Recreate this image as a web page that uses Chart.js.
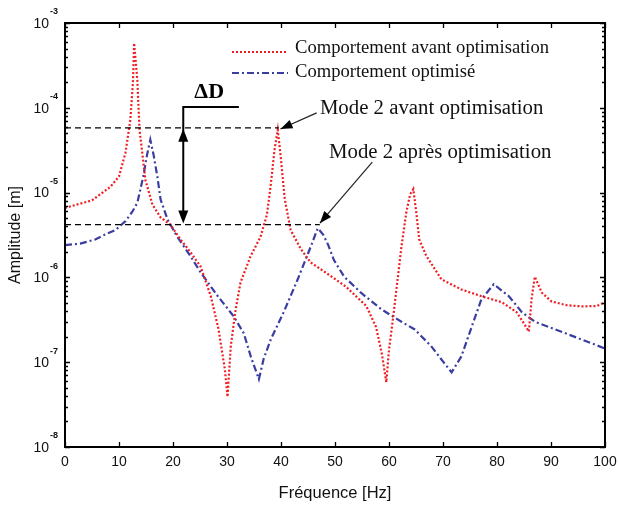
<!DOCTYPE html>
<html><head><meta charset="utf-8">
<script src="https://cdn.jsdelivr.net/npm/chart.js@4/dist/chart.umd.min.js"></script>
<style>html,body{margin:0;padding:0;background:#fff}canvas{display:block}</style>
</head><body>
<canvas id="c" width="618" height="505"></canvas>
<script>
// ---- data ----
const seriesNames = ['Comportement avant optimisation', 'Comportement optimisé'];
const freqAvant = [0,5,8.4,10,11.2,12.1,12.6,12.8,13.4,13.8,14.9,16.2,17.7,19.5,21.4,23.2,25.1,27,28.4,29.6,30.1,30.7,31.6,32.5,34.4,36.2,37.4,38.1,38.8,39.4,40,40.7,41.8,43.7,45.5,49.3,52,55.8,57.6,58.7,59.5,60,60.8,62.3,63.2,63.9,64.5,65.1,65.6,66.9,69.7,73.4,77.1,80.9,83.6,84.8,85.9,86.4,87,88.3,90.1,92.9,95.7,98.5,100];
const ampAvant = [6.6e-6,8.1e-6,1.17e-5,1.55e-5,2.95e-5,7.2e-5,2.1e-4,5.8e-4,2.1e-4,5.5e-5,1.4e-5,7.2e-6,5.1e-6,4.2e-6,2.8e-6,2.0e-6,1.35e-6,6.0e-7,2.5e-7,8.3e-8,3.9e-8,1.55e-7,4.2e-7,8.7e-7,1.8e-6,3.0e-6,5.5e-6,1.23e-5,3.2e-5,5.5e-5,2.45e-5,8.3e-6,3.6e-6,2.15e-6,1.5e-6,1.03e-6,7.8e-7,4.6e-7,2.6e-7,1.23e-7,5.8e-8,1.4e-7,3.5e-7,2.3e-6,5.8e-6,9.5e-6,1.1e-5,5.5e-6,2.8e-6,1.8e-6,9.5e-7,7.2e-7,6.0e-7,5.1e-7,3.9e-7,3.0e-7,2.3e-7,5.5e-7,1.02e-6,6.6e-7,5.2e-7,4.7e-7,4.55e-7,4.6e-7,5.1e-7];
const freqOpt = [0,2.8,5.6,7.4,9.3,11.2,12.5,13.4,14.5,15.2,15.8,16.4,17.1,17.7,19,20.8,23.2,25.1,28.3,31.2,33.1,34.4,35.9,36.8,38.1,40.5,43.1,45.5,46.8,47.8,48.7,49.8,51.7,54.8,58.6,62.3,64.7,67.8,70.1,71.6,73.4,75.3,77.1,79.4,82.2,84.6,87,90.7,95.7,100];
const ampOpt = [2.4e-6,2.5e-6,2.8e-6,3.2e-6,3.6e-6,4.6e-6,6.0e-6,7.6e-6,1.55e-5,2.8e-5,4.2e-5,2.8e-5,1.55e-5,8.3e-6,4.8e-6,3.0e-6,1.8e-6,1.15e-6,6.0e-7,3.5e-7,2.2e-7,1.17e-7,6.3e-8,1.1e-7,1.85e-7,3.9e-7,9.5e-7,2.3e-6,3.8e-6,3.2e-6,2.45e-6,1.6e-6,1.02e-6,6.6e-7,4.2e-7,3.0e-7,2.45e-7,1.55e-7,1.0e-7,7.6e-8,1.17e-7,2.6e-7,5.5e-7,8.3e-7,6.0e-7,3.9e-7,3.0e-7,2.45e-7,1.85e-7,1.45e-7];
const xTicks = [0,10,20,30,40,50,60,70,80,90,100];
const yDecades = [-8,-7,-6,-5,-4,-3];
const mode2Avant = {freq: 39.4, amp: 5.8e-5};
const mode2Apres = {freq: 47.0, amp: 4.2e-6};
const annotationTexts = ['Mode 2 avant optimisation', 'Mode 2 après optimisation', 'ΔD'];

const RED = 'rgb(240,30,34)';
const BLUE = 'rgb(58,62,160)';
const SANS = '"Liberation Sans", Arial, sans-serif';
const SERIF = '"Liberation Serif", "Times New Roman", serif';

function pts(xs, ys){ return xs.map((x,i)=>({x:x, y:ys[i]})); }

function arrowHead(ctx, x1,y1,x2,y2, len, w){
  const a = Math.atan2(y2-y1, x2-x1);
  ctx.beginPath();
  ctx.moveTo(x2,y2);
  ctx.lineTo(x2 - len*Math.cos(a) + w*Math.sin(a), y2 - len*Math.sin(a) - w*Math.cos(a));
  ctx.lineTo(x2 - len*Math.cos(a) - w*Math.sin(a), y2 - len*Math.sin(a) + w*Math.cos(a));
  ctx.closePath(); ctx.fill();
}

const decor = {
  id: 'decor',
  afterDraw(chart){
    const ctx = chart.ctx, xs = chart.scales.x, ys = chart.scales.y, a = chart.chartArea;
    ctx.save();
    // frame
    ctx.strokeStyle = '#000'; ctx.lineWidth = 2;
    ctx.strokeRect(a.left, a.top, a.right-a.left, a.bottom-a.top);
    ctx.lineWidth = 1.3;
    xTicks.forEach(v=>{
      const px = Math.round(xs.getPixelForValue(v))+0.5;
      ctx.beginPath(); ctx.moveTo(px, a.bottom); ctx.lineTo(px, a.bottom-5);
      ctx.moveTo(px, a.top); ctx.lineTo(px, a.top+5); ctx.stroke();
    });
    yDecades.forEach(k=>{
      for(let m=1;m<=9;m++){
        if(k===-3 && m>1) break;
        const py = Math.round(ys.getPixelForValue(m*Math.pow(10,k)))+0.5;
        const L = m===1 ? 5 : 3;
        ctx.beginPath(); ctx.moveTo(a.left, py); ctx.lineTo(a.left+L, py);
        ctx.moveTo(a.right, py); ctx.lineTo(a.right-L, py); ctx.stroke();
      }
    });
    // y tick labels 10^k
    ctx.fillStyle = '#111';
    yDecades.forEach(k=>{
      const py = ys.getPixelForValue(Math.pow(10,k));
      ctx.font = '14px ' + SANS;
      ctx.textAlign = 'right'; ctx.textBaseline = 'middle';
      ctx.fillText('10', 49, py+1);
      ctx.font = 'bold 9px ' + SANS;
      ctx.textAlign = 'left'; ctx.textBaseline = 'middle';
      ctx.fillText(String(k), 50, py-11);
    });

    // legend
    ctx.lineWidth = 2;
    ctx.strokeStyle = RED; ctx.setLineDash([2,2]);
    ctx.beginPath(); ctx.moveTo(232,52); ctx.lineTo(288,52); ctx.stroke();
    ctx.strokeStyle = BLUE; ctx.setLineDash([7,3,2,3]);
    ctx.beginPath(); ctx.moveTo(232,73); ctx.lineTo(288,73); ctx.stroke();
    ctx.setLineDash([]);
    ctx.fillStyle = '#111';
    ctx.font = '18.6px ' + SERIF;
    ctx.textAlign = 'left'; ctx.textBaseline = 'middle';
    ctx.fillText(seriesNames[0], 295, 48);
    ctx.fillText(seriesNames[1], 295, 72);

    // dashed reference lines
    ctx.strokeStyle = '#000'; ctx.lineWidth = 1.2; ctx.setLineDash([6,4]);
    const y1 = ys.getPixelForValue(mode2Avant.amp), y2 = ys.getPixelForValue(mode2Apres.amp);
    ctx.beginPath(); ctx.moveTo(a.left, y1); ctx.lineTo(xs.getPixelForValue(mode2Avant.freq)+1, y1);
    ctx.moveTo(a.left, y2); ctx.lineTo(xs.getPixelForValue(mode2Apres.freq)+1, y2); ctx.stroke();
    ctx.setLineDash([]);

    // ΔD double arrow
    const dx = xs.getPixelForValue(21.9);
    ctx.lineWidth = 2; ctx.fillStyle = '#000';
    ctx.beginPath(); ctx.moveTo(dx, y1+12); ctx.lineTo(dx, y2-12); ctx.stroke();
    arrowHead(ctx, dx, y2, dx, y1+1, 13, 5);
    arrowHead(ctx, dx, y1, dx, y2-1, 13, 5);
    const ly = ys.getPixelForValue(1.02e-4);
    ctx.beginPath(); ctx.moveTo(dx, y1+4); ctx.lineTo(dx, ly); ctx.lineTo(xs.getPixelForValue(32.2), ly); ctx.stroke();
    ctx.font = 'bold 22px ' + SERIF;
    ctx.textAlign = 'center'; ctx.textBaseline = 'alphabetic';
    ctx.fillText(annotationTexts[2], xs.getPixelForValue(26.7), ly-9);

    // Mode 2 annotations
    ctx.lineWidth = 1.2; ctx.strokeStyle = '#222';
    const a1x0 = xs.getPixelForValue(46.6), a1y0 = ys.getPixelForValue(Math.pow(10,-4.06));
    const a1x1 = xs.getPixelForValue(39.9), a1y1 = ys.getPixelForValue(Math.pow(10,-4.25));
    ctx.beginPath(); ctx.moveTo(a1x0,a1y0); ctx.lineTo(a1x1,a1y1); ctx.stroke();
    arrowHead(ctx, a1x0,a1y0,a1x1,a1y1, 12, 4.5);
    const a2x0 = xs.getPixelForValue(56.9), a2y0 = ys.getPixelForValue(Math.pow(10,-4.64));
    const a2x1 = xs.getPixelForValue(47.2), a2y1 = ys.getPixelForValue(Math.pow(10,-5.36));
    ctx.beginPath(); ctx.moveTo(a2x0,a2y0); ctx.lineTo(a2x1,a2y1); ctx.stroke();
    arrowHead(ctx, a2x0,a2y0,a2x1,a2y1, 12, 4.5);
    ctx.font = '20.8px ' + SERIF;
    ctx.textAlign = 'left'; ctx.textBaseline = 'middle'; ctx.fillStyle = '#111';
    ctx.fillText(annotationTexts[0], xs.getPixelForValue(47.2), ys.getPixelForValue(Math.pow(10,-4.01)));
    ctx.fillText(annotationTexts[1], xs.getPixelForValue(48.9), ys.getPixelForValue(Math.pow(10,-4.53)));
    ctx.restore();
  }
};

new Chart(document.getElementById('c'), {
  type: 'line',
  data: {
    datasets: [
      {label: seriesNames[0], data: pts(freqAvant, ampAvant), borderColor: RED, borderWidth: 2.2, borderDash: [2,2], pointRadius: 0, tension: 0, fill: false},
      {label: seriesNames[1], data: pts(freqOpt, ampOpt), borderColor: BLUE, borderWidth: 2.2, borderDash: [7,3,2,3], pointRadius: 0, tension: 0, fill: false}
    ]
  },
  options: {
    responsive: false, animation: false,
    layout: {padding: {top: 23, right: 13, left: 0, bottom: 0}},
    plugins: {legend: {display: false}, tooltip: {enabled: false}},
    scales: {
      x: {
        type: 'linear', min: 0, max: 100,
        afterBuildTicks: s => { s.ticks = xTicks.map(v=>({value:v})); },
        afterFit: s => { s.height = 58; s.paddingLeft = 0; s.paddingRight = 0; },
        grid: {display: false, drawTicks: false},
        border: {display: false},
        ticks: {color: '#111', font: {size: 14, family: SANS}, padding: 7, maxRotation: 0, autoSkip: false},
        title: {display: true, text: 'Fréquence [Hz]', color: '#111', font: {size: 16.5, family: SANS}, padding: {top: 0, bottom: 2}}
      },
      y: {
        type: 'logarithmic', min: 1e-8, max: 1e-3,
        afterFit: s => { s.width = 65; s.paddingTop = 0; s.paddingBottom = 0; },
        grid: {display: false, drawTicks: false},
        border: {display: false},
        ticks: {display: false},
        title: {display: true, text: 'Amplitude [m]', color: '#111', font: {size: 16, family: SANS}, padding: {top: 6, bottom: 0}}
      }
    }
  },
  plugins: [decor]
});
</script>
</body></html>
